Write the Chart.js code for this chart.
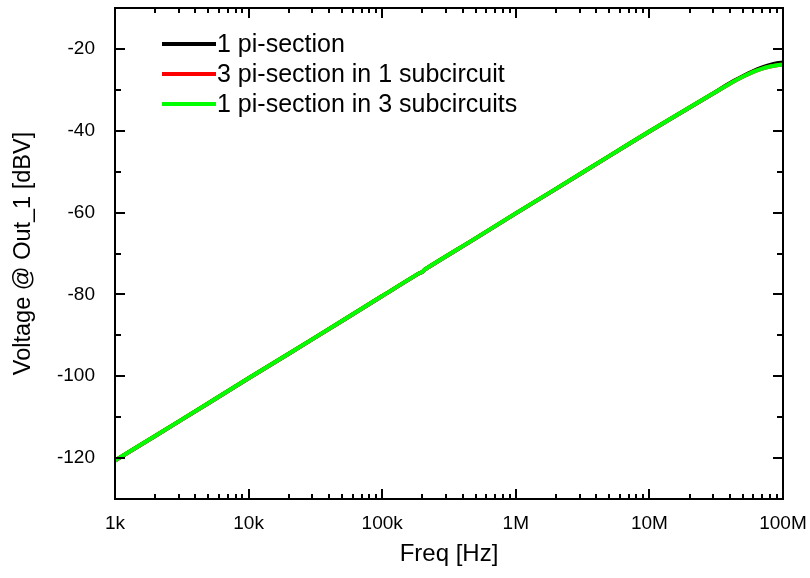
<!DOCTYPE html>
<html>
<head>
<meta charset="utf-8">
<script src="https://cdn.jsdelivr.net/npm/chart.js@4"></script>
<style>
  html, body { margin: 0; padding: 0; background: #fff; }
  #wrap { width: 810px; height: 578px; position: relative; }
</style>
</head>
<body>
<div id="wrap"><canvas id="chart"></canvas></div>
<script>
// --- data ---
const freqs = [1e3, 2e3, 5e3, 1e4, 2e4, 5e4, 1e5, 1.9e5, 2e5, 2.1e5, 5e5, 1e6, 2e6, 5e6, 1e7, 2e7, 3e7, 4e7, 5e7, 6e7, 7e7, 8e7, 9e7, 1e8];
const onePi = [-120.6, -114.6, -106.6, -100.5, -94.5, -86.5, -80.4, -74.8, -74.5, -73.85, -66.3, -60.2, -54.2, -46.2, -40.2, -34.3, -30.9, -28.4, -26.7, -25.4, -24.5, -23.9, -23.5, -23.3];
const threePiOneSub = [-120.6, -114.6, -106.6, -100.5, -94.5, -86.5, -80.4, -74.8, -74.5, -73.85, -66.3, -60.2, -54.2, -46.2, -40.2, -34.3, -30.9, -28.5, -26.8, -25.6, -24.8, -24.3, -24.0, -23.8];
const onePiThreeSub = [-120.6, -114.6, -106.6, -100.5, -94.5, -86.5, -80.4, -74.8, -74.5, -73.85, -66.3, -60.2, -54.2, -46.2, -40.2, -34.3, -30.9, -28.5, -26.8, -25.6, -24.8, -24.3, -24.0, -23.8];

const seriesLabels = ['1 pi-section', '3 pi-section in 1 subcircuit', '1 pi-section in 3 subcircuits'];
const seriesColors = ['#000000', '#ff0000', '#00ff00'];

const xTickValues = [1e3, 1e4, 1e5, 1e6, 1e7, 1e8];
const xTickLabels = ['1k', '10k', '100k', '1M', '10M', '100M'];
const yTickValues = [-120, -100, -80, -60, -40, -20];
const yMinorValues = [-130, -110, -90, -70, -50, -30, -10];

const FONT = "'Liberation Sans', Arial, sans-serif";

const toPoints = ys => freqs.map((f, i) => ({ x: f, y: ys[i] }));

// no label overhang padding, so the plot box sits where the original does
const noOverhang = s => {
    s.paddingTop = 0; s.paddingBottom = 0; s.paddingLeft = 0; s.paddingRight = 0;
};

// inward ticks on all four sides + frame
const frameTicks = {
    id: 'frameTicks',
    afterDatasetsDraw(chart) {
        const { ctx, chartArea: a, scales } = chart;
        const xs = scales.x, ys = scales.y;
        ctx.save();
        ctx.strokeStyle = '#000';
        ctx.lineWidth = 2;
        ctx.beginPath();

        const xTick = (v, len) => {
            const px = Math.round(xs.getPixelForValue(v));
            ctx.moveTo(px, a.bottom); ctx.lineTo(px, a.bottom - len);
            ctx.moveTo(px, a.top); ctx.lineTo(px, a.top + len);
        };
        const yTick = (v, len) => {
            const py = Math.round(ys.getPixelForValue(v));
            ctx.moveTo(a.left, py); ctx.lineTo(a.left + len, py);
            ctx.moveTo(a.right, py); ctx.lineTo(a.right - len, py);
        };

        xTickValues.forEach(v => xTick(v, 10));
        xTickValues.slice(0, -1).forEach(d => {
            for (let k = 2; k <= 9; k++) xTick(d * k, 5);
        });
        yTickValues.forEach(v => yTick(v, 10));
        yMinorValues.forEach(v => yTick(v, 6));
        ctx.stroke();

        ctx.strokeRect(a.left, a.top, a.right - a.left, a.bottom - a.top);
        ctx.restore();
    }
};

// legend inside the plot, top-left
const innerLegend = {
    id: 'innerLegend',
    afterDraw(chart) {
        const { ctx } = chart;
        ctx.save();
        ctx.font = `25px ${FONT}`;
        ctx.textBaseline = 'middle';
        ctx.fillStyle = '#000';
        chart.data.datasets.forEach((ds, i) => {
            const y = 44 + i * 30;
            ctx.strokeStyle = ds.borderColor;
            ctx.lineWidth = 4;
            ctx.beginPath();
            ctx.moveTo(162, y); ctx.lineTo(216, y);
            ctx.stroke();
            ctx.fillText(ds.label, 217, y + 1);
        });
        ctx.restore();
    }
};

const datasets = [onePi, threePiOneSub, onePiThreeSub].map((ys, i) => ({
    label: seriesLabels[i],
    data: toPoints(ys),
    borderColor: seriesColors[i],
    backgroundColor: seriesColors[i],
    borderWidth: 4,
    pointRadius: 0,
    tension: 0.3,
    order: 2 - i
}));

new Chart(document.getElementById('chart'), {
    type: 'line',
    data: { datasets },
    options: {
        responsive: true,
        maintainAspectRatio: false,
        animation: false,
        layout: { padding: { top: 8, right: 27, left: 0, bottom: 0 } },
        plugins: { legend: { display: false }, tooltip: { enabled: false } },
        scales: {
            x: {
                type: 'logarithmic',
                min: 1e3,
                max: 1e8,
                grid: { display: false },
                border: { display: false },
                afterBuildTicks: s => { s.ticks = xTickValues.map(v => ({ value: v })); },
                afterFit: s => { s.height = 79; noOverhang(s); },
                ticks: {
                    padding: 5,
                    maxRotation: 0,
                    autoSkip: false,
                    color: '#000',
                    font: { family: FONT, size: 19 },
                    callback: v => xTickLabels[xTickValues.indexOf(v)] ?? ''
                },
                title: {
                    display: true,
                    text: 'Freq [Hz]',
                    color: '#000',
                    font: { family: FONT, size: 24 },
                    padding: { top: 0, bottom: 9 }
                }
            },
            y: {
                min: -130,
                max: -10,
                grid: { display: false },
                border: { display: false },
                afterBuildTicks: s => { s.ticks = yTickValues.map(v => ({ value: v })); },
                afterFit: s => { s.width = 115; noOverhang(s); },
                ticks: {
                    padding: 12,
                    color: '#000',
                    font: { family: FONT, size: 19 }
                },
                title: {
                    display: true,
                    text: 'Voltage @ Out_1 [dBV]',
                    color: '#000',
                    font: { family: FONT, size: 23.5 },
                    padding: { top: 9, bottom: 0 }
                }
            }
        }
    },
    plugins: [frameTicks, innerLegend]
});
</script>
</body>
</html>
